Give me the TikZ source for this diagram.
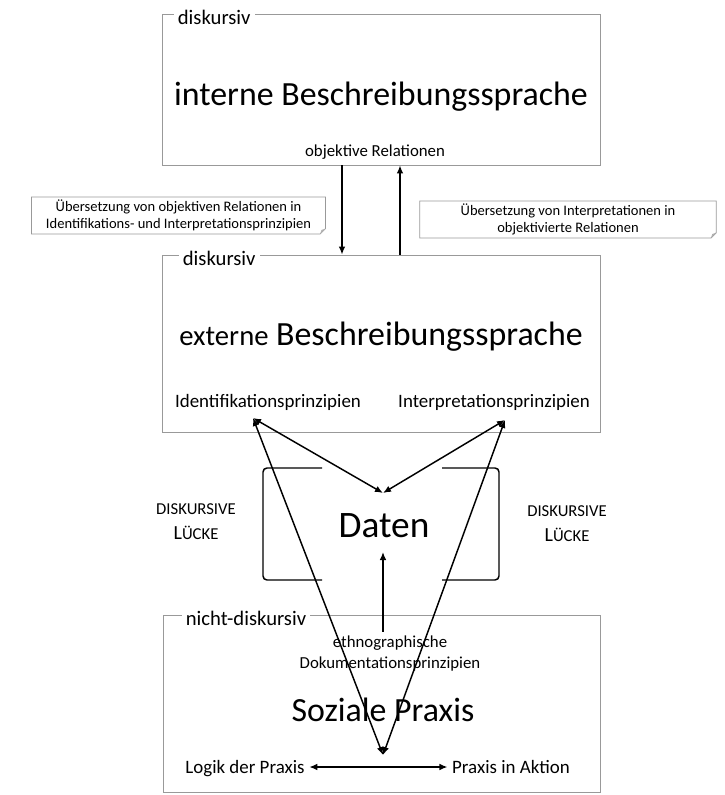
\documentclass[tikz,border=0pt]{standalone}
\usepackage{fontspec}
\setmainfont{Carlito}
\usetikzlibrary{arrows.meta, fit, positioning}

\tikzset{
  frame/.style={draw=gray!80, line width=0.6pt, inner sep=0pt},
  tag/.style={anchor=west, fill=white, inner xsep=3pt, inner ysep=1pt,
    font=\fontsize{15.5}{18}\selectfont},
  note/.style={minimum width=220pt, minimum height=27pt, align=center,
    inner sep=2pt, font=\fontsize{10.9}{12.8}\selectfont},
  notebox/.style={draw=gray!80, line width=0.6pt},
  arr/.style={line width=1.1pt, -{Latex[length=6pt,width=5pt]}},
  both/.style={line width=1.1pt,
    {Latex[length=6pt,width=5pt]}-{Latex[length=6pt,width=5pt]}},
  title/.style={font=\fontsize{25.4}{30}\selectfont},
  small/.style={font=\fontsize{12.6}{15.75}\selectfont},
  mid/.style={font=\fontsize{14.2}{17}\selectfont},
  gaptext/.style={align=center, font=\fontsize{12.5}{18.75}\selectfont},
}

\begin{document}
\begin{tikzpicture}[x=0.75pt, y=-0.75pt]
\useasboundingbox (0,0) rectangle (724,795);

% the three boxes
\node[frame, fit={(162,14) (600,165)}] (intern) {};
\node[frame, fit={(162,255) (600,432)}] (extern) {};
\node[frame, fit={(163,615) (600,792)}] (praxis) {};
\node[tag] at ([xshift=9pt,yshift=-3pt]intern.north west) {diskursiv};
\node[tag] at ([xshift=12.75pt,yshift=-3pt]extern.north west) {diskursiv};
\node[tag] at ([xshift=14.25pt,yshift=-3pt]praxis.north west) {nicht-diskursiv};

% texts
\node[title] (ibs) at (381,97) {interne Beschreibungssprache};
\node[small] (objrel) at (375,152) {objektive Relationen};
\node[title] (ebs) at (381,337) {{\fontsize{21.5}{26}\selectfont externe} Beschreibungssprache};
\node[mid] (ident) at (268,402) {Identifikationsprinzipien};
\node[mid] (interp) at (494,402) {Interpretationsprinzipien};
\node[font=\fontsize{28}{32}\selectfont] (daten) at (384,526) {Daten};
\node[small, align=center] (ethno) at (390,654) {ethnographische\\Dokumentationsprinzipien};
\node[title] (sozial) at (383,710) {Soziale Praxis};
\node[mid, anchor=base] (logik) at (245,773) {Logik der Praxis};
\node[mid, anchor=base] (aktion) at (511,773) {Praxis in Aktion};
\node[gaptext] (gapl) at (196,522) {DISKURSIVE\\{\fontsize{15}{18}\selectfont L}ÜCKE};
\node[gaptext] (gapr) at (567,524) {DISKURSIVE\\{\fontsize{15}{18}\selectfont L}ÜCKE};

% notes
\node[note] (n1) at (178.5,215.5) {Übersetzung von objektiven Relationen in\\Identifikations- und Interpretationsprinzipien};
\node[note, minimum width=222pt] (n2) at (568,219.5) {Übersetzung von Interpretationen in\\objektivierte Relationen};
\foreach \n in {n1,n2} {
  \draw[notebox] (\n.north west) -- (\n.north east) -- ([yshift=4pt]\n.south east)
    -- ([xshift=-4pt]\n.south east) -- (\n.south west) -- cycle;
  \fill[gray!60] ([yshift=4pt]\n.south east) -- ([xshift=-4pt]\n.south east)
    -- ([xshift=-3pt,yshift=3pt]\n.south east) -- cycle;
}

% connectors
\coordinate (dn) at (342,0);
\coordinate (up) at (400,0);
\draw[arr] (intern.south -| dn) -- (extern.north -| dn);
\draw[arr] (extern.north -| up) -- (intern.south -| up);

\coordinate (pi) at (253,418);
\coordinate (pr) at (505,420);
\coordinate (dt) at (383,493);
\coordinate (db) at (383,552);
\coordinate (sp) at (383,755);
\draw[both] (dt) -- (pi);
\draw[both] (dt) -- (pr);
\draw[both] (sp) -- (pi);
\draw[both] (sp) -- (pr);
\draw[arr] (ethno.north -| db) -- (db);
\draw[both] ([yshift=4.5pt]logik.base east) -- ([yshift=4.5pt]aktion.base west);

% brackets round Daten
\foreach \a/\b in {322/263, 442/499}
  \draw[line width=1.1pt, rounded corners=3pt] (\a,468) -| (\b,580) -- (\a,580);
\end{tikzpicture}
\end{document}
